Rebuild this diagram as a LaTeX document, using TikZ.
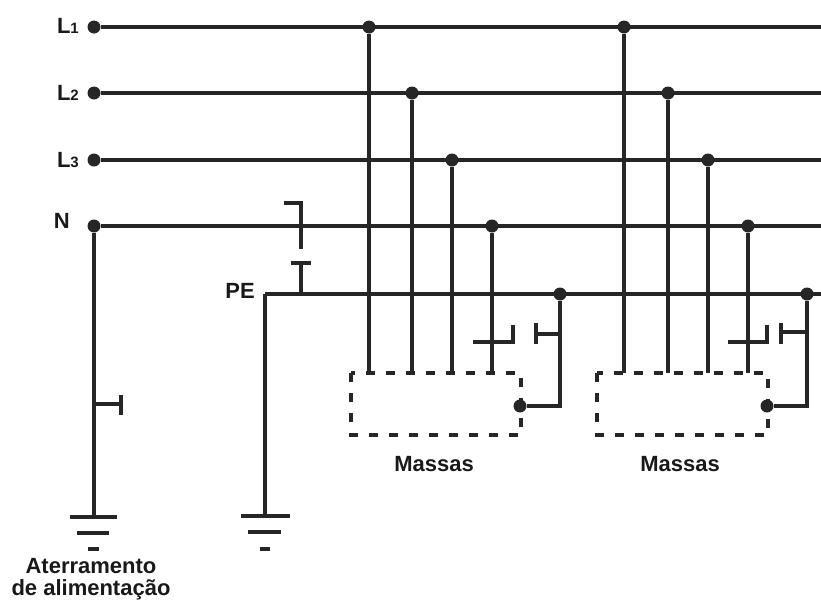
\documentclass[tikz,border=0pt]{standalone}
\usepackage{fontspec}
\setmainfont{Liberation Sans}
\begin{document}
\begin{tikzpicture}[x=1pt,y=-1pt,
  wire/.style={line width=3.5pt, draw=black!85},
  dot/.style={circle, fill=black!85, inner sep=0pt, minimum size=13pt},
  lbl/.style={font=\fontsize{22}{24}\selectfont\bfseries, inner sep=0pt, text=black!90},
  captxt/.style={font=\fontsize{22}{22}\selectfont\bfseries, inner sep=0pt, text=black!90, align=center},
  massbox/.style={line width=3.5pt, draw=black!85, dash pattern=on 9pt off 11pt},
  ]
\useasboundingbox (0,0) rectangle (821,603);

% supply dots
\node[dot] (l1) at (94,27) {};
\node[dot] (l2) at (94,93) {};
\node[dot] (l3) at (94,160) {};
\node[dot] (n)  at (94,226) {};
\coordinate (l1e) at (821,27);
\coordinate (l2e) at (821,93);
\coordinate (l3e) at (821,160);
\coordinate (ne)  at (821,226);
\coordinate (pes) at (265,294);
\coordinate (pee) at (821,294);

% labels
\node[lbl, anchor=base east] (tl1) at (79,33) {L{\fontsize{15}{15}\selectfont 1}};
\node[lbl, anchor=base east] (tl2) at (79,100) {L{\fontsize{15}{15}\selectfont 2}};
\node[lbl, anchor=base east] (tl3) at (79,167) {L{\fontsize{15}{15}\selectfont 3}};
\node[lbl, anchor=base east] (tn)  at (70,228) {N};
\node[lbl, anchor=base east] (tpe) at (255,298) {PE};

% main conductors
\draw[wire] (l1) -- (l1e);
\draw[wire] (l2) -- (l2e);
\draw[wire] (l3) -- (l3e);
\draw[wire] (n) -- (ne);
\draw[wire] (pes) -- (pee);

% supply earthing (left)
\coordinate (g1) at (94,517);
\coordinate (s1) at (94,404);
\coordinate (s1b) at (121,404);
\draw[wire] (n) -- (g1);
\draw[wire] (s1) -- (s1b);
\draw[wire] (121,395) -- (121,415);
\draw[wire] (70,517) -- (117,517);
\draw[wire] (77,533) -- (109,533);
\draw[wire] (88,549) -- (99,549);
\node[captxt] (tat) at (91,579) {Aterramento\\de alimentação};

% PE earthing
\coordinate (g2) at (265,516);
\draw[wire] (pes) -- (g2);
\draw[wire] (241,516) -- (290,516);
\draw[wire] (248,532) -- (281,532);
\draw[wire] (260,549) -- (270,549);

% N-PE switch
\coordinate (sw1) at (301,249);
\coordinate (sw2) at (301,263);
\coordinate (swp) at (301,294);
\draw[wire] (284,203) -- (301,203) -- (sw1);
\draw[wire] (291,263) -- (311,263);
\draw[wire] (sw2) -- (swp);

% ---- group 1 ----
\node[dot] (a1) at (369,27) {};
\node[dot] (b1) at (412,93) {};
\node[dot] (c1) at (452,160) {};
\node[dot] (d1) at (492,226) {};
\node[dot] (e1) at (560,294) {};
\node[dot] (m1) at (520,406) {};
\draw[massbox] (351,373) rectangle (521,435);
\draw[wire] (a1) -- (369,373);
\draw[wire] (b1) -- (412,373);
\draw[wire] (c1) -- (452,373);
\draw[wire] (d1) -- (492,373);
\draw[wire] (473,342) -- (513,342) -- (513,325);
\draw[wire] (e1) -- (560,406) -- (m1);
\draw[wire] (560,334) -- (536,334);
\draw[wire] (536,323) -- (536,344);
\node[captxt] (tm1) at (434,464) {Massas};

% ---- group 2 ----
\node[dot] (a2) at (624,27) {};
\node[dot] (b2) at (668,93) {};
\node[dot] (c2) at (708,160) {};
\node[dot] (d2) at (748,226) {};
\node[dot] (e2) at (807,294) {};
\node[dot] (m2) at (767,406) {};
\draw[massbox] (597,373) rectangle (768,435);
\draw[wire] (a2) -- (624,373);
\draw[wire] (b2) -- (668,373);
\draw[wire] (c2) -- (708,373);
\draw[wire] (d2) -- (748,373);
\draw[wire] (728,342) -- (767,342) -- (767,325);
\draw[wire] (e2) -- (807,406) -- (m2);
\draw[wire] (807,332) -- (781,332);
\draw[wire] (781,323) -- (781,344);
\node[captxt] (tm2) at (680,464) {Massas};
\end{tikzpicture}
\end{document}
